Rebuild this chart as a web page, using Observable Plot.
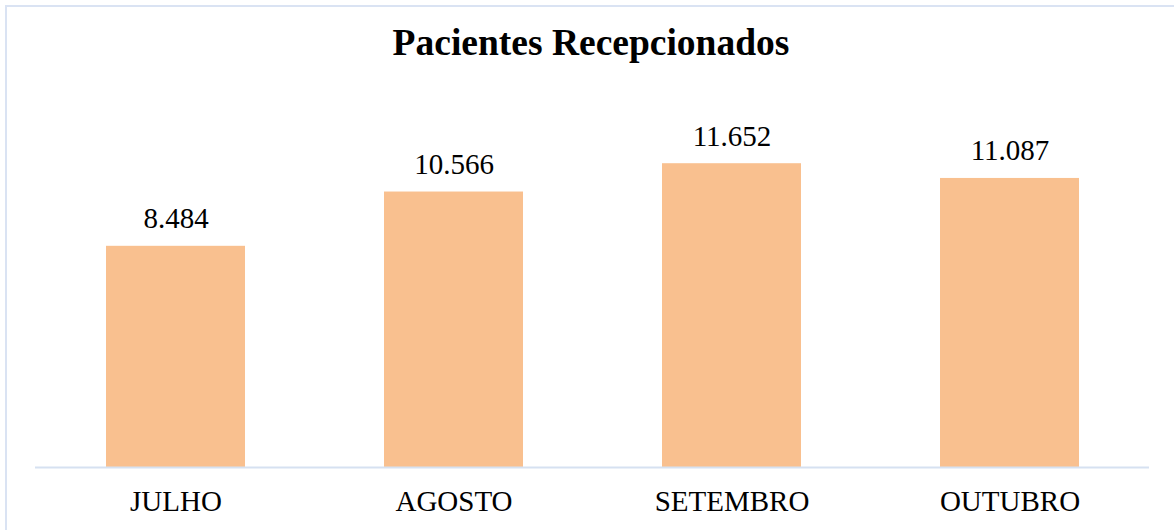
<!DOCTYPE html>
<html>
<head>
<meta charset="utf-8">
<script src="https://cdn.jsdelivr.net/npm/d3@7"></script>
<script src="https://cdn.jsdelivr.net/npm/@observablehq/plot@0.6"></script>
<style>
  html, body { margin: 0; padding: 0; background: #fff; width: 1174px; height: 530px; overflow: hidden; }
  #frame { position: absolute; left: 5px; top: 5px; width: 1200px; height: 600px; border-left: 2px solid #DAE3F3; border-top: 2px solid #DAE3F3; box-sizing: border-box; }
  #title { position: absolute; left: 0; top: 24px; width: 1182px; text-align: center; font-family: "Liberation Serif", "Times New Roman", serif; font-weight: bold; font-size: 37.5px; line-height: 1; color: #000; }
  #chart { position: absolute; left: 0; top: 90px; }
</style>
</head>
<body>
<div id="frame"></div>
<div id="title">Pacientes Recepcionados</div>
<div id="chart"></div>
<script>
const months = ["JULHO", "AGOSTO", "SETEMBRO", "OUTUBRO"];
const values = [8484, 10566, 11652, 11087];

const data = months.map((m, i) => ({month: m, value: values[i]}));
const fmt = d3.formatLocale({decimal: ",", thousands: ".", grouping: [3], currency: ["R$", ""]}).format(",d");

const chart = Plot.plot({
  width: 1174,
  height: 440,
  marginLeft: 35,
  marginRight: 25,
  marginTop: 12,
  marginBottom: 63,
  style: {fontFamily: "'Liberation Serif', 'Times New Roman', serif", background: "transparent", color: "#000"},
  x: {domain: months, paddingInner: 0.5, paddingOuter: 0.25, label: null, tickSize: 0, tickPadding: 24},
  y: {domain: [0, 14000], axis: null},
  marks: [
    Plot.barY(data, {x: "month", y: "value", fill: "#F9C08F"}),
    Plot.ruleY([0], {stroke: "#D6E1F1", strokeWidth: 2}),
    Plot.text(data, {x: "month", y: "value", text: d => fmt(d.value), lineAnchor: "bottom", dy: -18, fontSize: 29, fill: "#000"}),
    Plot.axisX({tickSize: 0, tickPadding: 23, fontSize: 29, label: null, fill: "#000"})
  ]
});
document.getElementById("chart").appendChild(chart);
</script>
</body>
</html>
